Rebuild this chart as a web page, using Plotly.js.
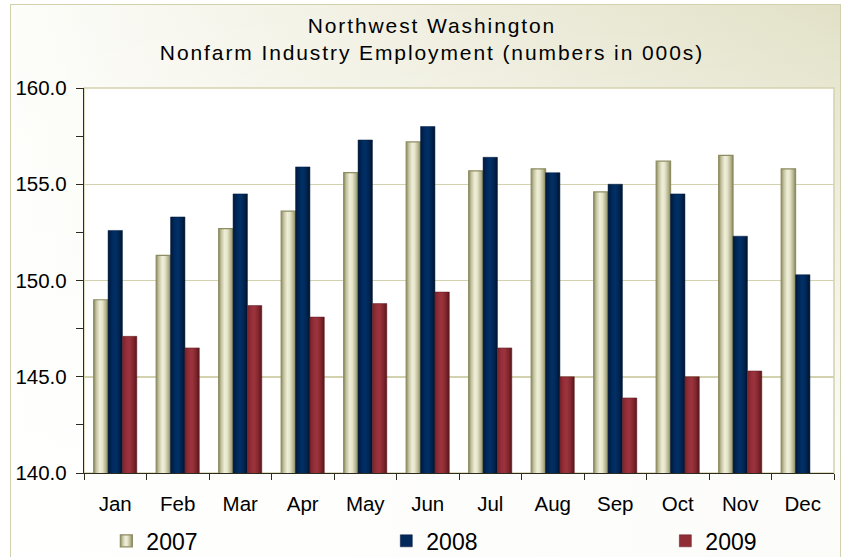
<!DOCTYPE html>
<html>
<head>
<meta charset="utf-8">
<script src="https://cdn.plot.ly/plotly-3.0.1.min.js"></script>
<style>
  html, body { margin: 0; padding: 0; background: #ffffff; }
  #frame {
    position: absolute; left: 10px; top: 4px; width: 829px; height: 560px;
    border: 1.5px solid #d2d1ae;
    background:
      linear-gradient(to bottom, rgba(255,255,255,0) 0%, rgba(255,255,255,0.55) 45%, rgba(255,255,255,0.9) 80%),
      linear-gradient(to right, #fdfdfa 0%, #f2f1e4 40%, #e2e1c7 100%);
  }
  #chart { position: absolute; left: 0; top: 0; width: 842px; height: 557px; }
  .gtitle { letter-spacing: 1.9px; }
</style>
</head>
<body>
<div id="frame"></div>
<div id="chart"></div>
<script>
const months = ["Jan","Feb","Mar","Apr","May","Jun","Jul","Aug","Sep","Oct","Nov","Dec"];
const seriesNames = ["2007","2008","2009"];
const values2007 = [149.0, 151.3, 152.7, 153.6, 155.6, 157.2, 155.7, 155.8, 154.6, 156.2, 156.5, 155.8];
const values2008 = [152.6, 153.3, 154.5, 155.9, 157.3, 158.0, 156.4, 155.6, 155.0, 154.5, 152.3, 150.3];
const values2009 = [147.1, 146.5, 148.7, 148.1, 148.8, 149.4, 146.5, 145.0, 143.9, 145.0, 145.3, null];
const yTickVals = [140, 145, 150, 155, 160];

const fills = ["#d9d8b9", "#03295a", "#912d36"];
const edges = ["#8e8c62", "#011b3e", "#5e1a20"];
const legendIds = ["legend", "legend2", "legend3"];
const allValues = [values2007, values2008, values2009];

const traces = allValues.map((v, i) => ({
  type: "bar",
  name: seriesNames[i],
  x: months,
  y: v,
  legend: legendIds[i],
  marker: { color: fills[i], line: { color: edges[i], width: i === 0 ? 1.2 : 0.5 } },
  hoverinfo: "x+y+name"
}));

const font = "Arial, 'Liberation Sans', sans-serif";
function legendAt(xpos) {
  return {
    orientation: "h",
    xref: "container", yref: "container",
    x: xpos, xanchor: "left",
    y: 0.029, yanchor: "middle",
    bgcolor: "rgba(0,0,0,0)",
    font: { family: font, size: 23, color: "#000000" },
    itemclick: false
  };
}
const layout = {
  width: 842, height: 557,
  paper_bgcolor: "rgba(0,0,0,0)",
  plot_bgcolor: "#ffffff",
  margin: { l: 84, r: 8, t: 88, b: 84 },
  barmode: "group",
  bargap: 0.31,
  bargroupgap: 0,
  font: { family: font, color: "#000000" },
  title: {
    text: "Northwest Washington<br>Nonfarm Industry Employment (numbers in 000s)",
    font: { family: font, size: 21, color: "#000000" },
    x: 0.513, xref: "container", xanchor: "center",
    y: 0.941, yref: "container", yanchor: "top"
  },
  xaxis: {
    type: "category",
    tickson: "boundaries",
    ticks: "outside", ticklen: 6, tickcolor: "#2b2b20", tickwidth: 1,
    showline: true, linecolor: "#2b2b20", linewidth: 1.2,
    showgrid: false,
    tickfont: { family: font, size: 20.5, color: "#000000" },
    ticklabelstandoff: 12
  },
  yaxis: {
    range: [140, 160],
    tickvals: yTickVals,
    tickformat: ".1f",
    ticks: "outside", ticklen: 7, tickcolor: "#2b2b20", tickwidth: 1,
    minor: { dtick: 2.5, tick0: 140, ticks: "outside", ticklen: 7, tickcolor: "#2b2b20", showgrid: false },
    showline: true, linecolor: "#2b2b20", linewidth: 1.2,
    showgrid: true, gridcolor: "#d3d2ae", gridwidth: 1.5,
    zeroline: false,
    tickfont: { family: font, size: 20.5, color: "#000000" },
    ticklabelstandoff: 5
  },
  shapes: [{
    type: "rect", xref: "paper", yref: "paper", x0: 0, x1: 1, y0: 0, y1: 1,
    line: { color: "#d3d2ae", width: 1.5 }, layer: "below"
  }],
  showlegend: true,
  legend: legendAt(0.1263),
  legend2: legendAt(0.4588),
  legend3: legendAt(0.7902)
};

function addGradients(gd) {
  const svg = gd.querySelector(".main-svg");
  if (!svg) return;
  let defs = svg.querySelector("defs");
  if (!defs) { defs = document.createElementNS("http://www.w3.org/2000/svg", "defs"); svg.insertBefore(defs, svg.firstChild); }
  const stops = [
    [[0, "#8a895c"], [0.18, "#c4c3a0"], [0.42, "#efeed8"], [0.6, "#e6e5cb"], [0.85, "#b3b18b"], [1, "#868458"]],
    [[0, "#00193c"], [0.3, "#002a5e"], [0.5, "#013066"], [0.75, "#002552"], [1, "#00132c"]],
    [[0, "#7d2229"], [0.3, "#96303a"], [0.5, "#9a333c"], [0.75, "#83262e"], [1, "#561719"]]
  ];
  stops.forEach((st, i) => {
    const g = document.createElementNS("http://www.w3.org/2000/svg", "linearGradient");
    g.setAttribute("id", "barGrad" + i);
    g.setAttribute("x1", "0"); g.setAttribute("x2", "1"); g.setAttribute("y1", "0"); g.setAttribute("y2", "0");
    st.forEach(([o, c]) => {
      const s = document.createElementNS("http://www.w3.org/2000/svg", "stop");
      s.setAttribute("offset", o); s.setAttribute("stop-color", c);
      g.appendChild(s);
    });
    defs.appendChild(g);
  });
  gd.querySelectorAll(".barlayer .trace.bars").forEach((tr, i) => {
    tr.querySelectorAll("path").forEach(p => { p.style.fill = "url(#barGrad" + i + ")"; });
  });
  const nameToIdx = {};
  seriesNames.forEach((n, i) => { nameToIdx[n] = i; });
  gd.querySelectorAll(".traces").forEach(tr => {
    const t = tr.querySelector(".legendtext");
    if (!t) return;
    const idx = nameToIdx[t.textContent.trim()];
    if (idx === undefined) return;
    tr.querySelectorAll(".legendpoints path").forEach(p => { p.style.fill = "url(#barGrad" + idx + ")"; });
  });
}

Plotly.newPlot("chart", traces, layout, { displayModeBar: false, staticPlot: true })
  .then(gd => addGradients(gd));
</script>
</body>
</html>
